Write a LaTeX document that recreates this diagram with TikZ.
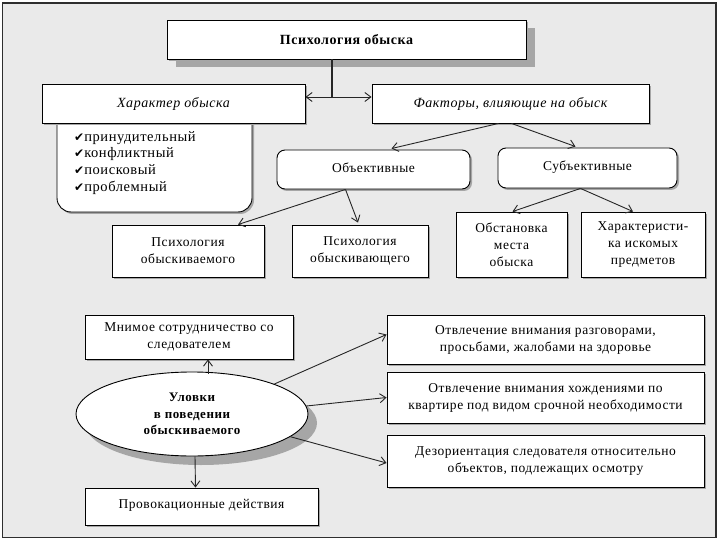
\documentclass[tikz,border=0pt]{standalone}
\usepackage{fontspec}
\setmainfont{Liberation Serif}[LetterSpace=4]
\newfontfamily\dejavu{DejaVu Sans}
\usetikzlibrary{shapes.geometric,arrows.meta,shadows,calc}
\definecolor{bg}{HTML}{EAEAEA}
\definecolor{framec}{HTML}{2E2E2E}
\definecolor{shad}{HTML}{A6A6A6}
\newcommand\chkm{{\dejavu\fontsize{12}{12}\selectfont ✔}}
\begin{document}
\begin{tikzpicture}[x=1pt,y=-1pt,
  txt/.style={font=\fontsize{13.5}{17}\selectfont},
  smallshadow/.style={drop shadow={shadow xshift=2pt,shadow yshift=-2pt,fill=shad,opacity=1}},
  bigshadow/.style={drop shadow={shadow xshift=9pt,shadow yshift=-8pt,fill=shad,opacity=1}},
  box/.style={draw=black,line width=0.9pt,fill=white,inner sep=2pt,align=center,txt,smallshadow},
  rbox/.style={box,rounded corners=8pt},
  arr/.style={draw=black!85,line width=0.9pt,-{Straight Barb[length=6pt,width=9pt]}},
  arrtwo/.style={draw=black!85,line width=0.9pt,{Straight Barb[length=6pt,width=9pt]}-{Straight Barb[length=6pt,width=9pt]}},
  conn/.style={draw=black!85,line width=1.2pt}
]
\fill[white] (0,0) rectangle (720,540);
\useasboundingbox (0,0) rectangle (720,540);
\draw[framec,line width=1.5pt,fill=bg] (2.5,3) rectangle (716,537.5);

% top
\node[box,bigshadow,minimum width=359,minimum height=39,font=\fontsize{14}{17}\selectfont\bfseries] (top) at (346.5,39.5) {Психология обыска};

% panel under Характер обыска
\draw[line width=0.9pt,fill=white,rounded corners=14pt,smallshadow] (57,118) -- (57,212) -- (252,212) -- (252,118);
\node[anchor=north west,align=left,inner sep=0pt,font=\fontsize{14.5}{16.8}\selectfont] (lst) at (74,131)
  {\chkm принудительный\\\chkm конфликтный\\\chkm поисковый\\\chkm проблемный};

\node[box,minimum width=263,minimum height=39,font=\fontsize{14}{17}\selectfont\itshape] (har) at (173.5,103.5) {Характер обыска};
\node[box,minimum width=277,minimum height=39,font=\fontsize{14}{17}\selectfont\itshape] (fact) at (510.5,103.5) {Факторы, влияющие на обыск};

\node[rbox,minimum width=193,minimum height=39] (obj) at (373.5,169.5) {\raisebox{4pt}{Объективные}};
\node[rbox,minimum width=179,minimum height=40] (subj) at (587.5,168) {\raisebox{5pt}{Субъективные}};

\node[box,minimum width=152,minimum height=52] (pv) at (188,251) {Психология\\обыскиваемого};
\node[box,minimum width=136,minimum height=52] (pg) at (360,251) {Психология\\обыскивающего};
\node[box,minimum width=111,minimum height=65] (obst) at (511.5,244.5) {Обстановка\\места\\обыска};
\node[box,minimum width=124,minimum height=65] (hark) at (643,244.5) {Характеристи-\\ка искомых\\предметов};

\node[box,minimum width=208,minimum height=44] (mn) at (189,337) {Мнимое сотрудничество со\\следователем};
\node[box,minimum width=317,minimum height=49] (ot1) at (545.5,339.5) {Отвлечение внимания разговорами,\\просьбами, жалобами на здоровье};
\node[box,minimum width=317,minimum height=51] (ot2) at (545.5,397.5) {Отвлечение внимания хождениями по\\квартире под видом срочной необходимости};
\node[box,minimum width=317,minimum height=52] (dez) at (545.5,461) {Дезориентация следователя относительно\\объектов, подлежащих осмотру};
\node[box,minimum width=233,minimum height=37] (prov) at (201.5,506.5) {\raisebox{6pt}{Провокационные действия}};

\node[ellipse,draw=black,line width=0.9pt,fill=white,inner sep=0pt,align=center,
  minimum width=232,minimum height=84,font=\fontsize{13}{16.5}\selectfont\bfseries,
  drop shadow={shadow xshift=9pt,shadow yshift=-9pt,fill=shad,opacity=1}] (ul) at (192,414)
  {Уловки\\в поведении\\обыскиваемого};

% connectors
\coordinate (j) at (332,97);
\draw[conn] (top.south -| j) -- (j);
\draw[arrtwo] (har.east |- j) -- (fact.west |- j);

\draw[arr] ($(fact.south)+(-12,0)$) -- ($(obj.north)+(18,-1)$);
\draw[arr] ($(fact.south)+(1,0)$) -- ($(subj.north)+(-12,-1)$);

\draw[arr] ($(obj.south)+(-28,0)$) -- ($(pv.north)+(50,0)$);
\draw[arr] ($(obj.south)+(-28,0)$) -- ($(pg.north)+(-2,-2)$);

\draw[arr] ($(subj.south)+(-7,0)$) -- ($(obst.north)+(1,0)$);
\draw[arr] ($(subj.south)+(-7,0)$) -- ($(hark.north)+(-10,0)$);

\draw[arr] ($(ul.north)+(16,2)$) -- ($(mn.south)+(19,0)$);
\draw[arr] (ul.20) -- ($(ot1.west)+(0,-5)$);
\draw[arr] (ul.4) -- (ot2.west);
\draw[arr] (ul.-13) -- ($(dez.west)+(0,2)$);
\draw[arr] ($(ul.south)+(3,0)$) -- ($(prov.north)+(-6,0)$);
\end{tikzpicture}
\end{document}
